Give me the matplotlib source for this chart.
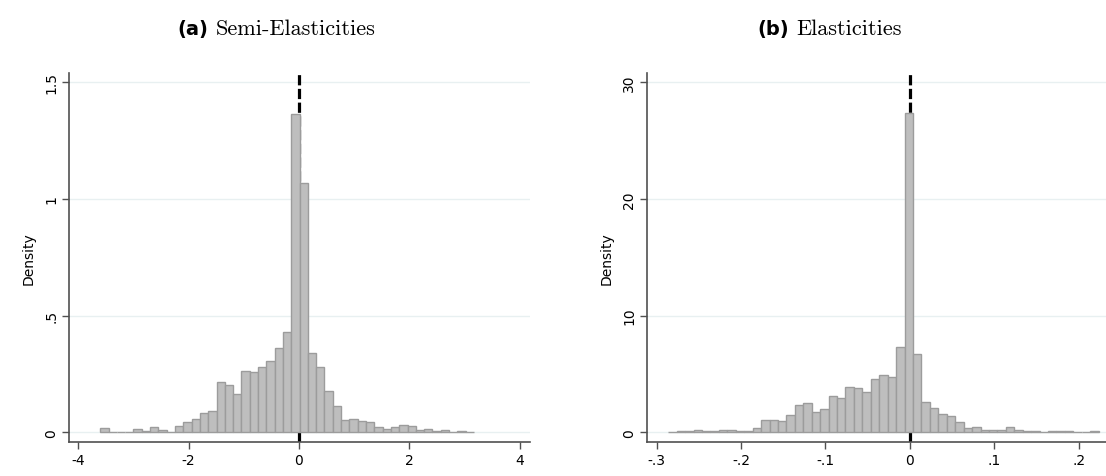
import numpy as np
import matplotlib
matplotlib.use("Agg")
import matplotlib.pyplot as plt

# ---------------- data ----------------
# (a) Semi-Elasticities: 45 equal-width bins
semi_bin_start = -3.60
semi_bin_end = 3.17
semi_density = [0.017, 0.003, 0.003, 0.003, 0.013, 0.007, 0.021, 0.008, 0.001,
                0.026, 0.043, 0.057, 0.081, 0.090, 0.216, 0.201, 0.166, 0.261,
                0.257, 0.281, 0.307, 0.363, 0.429, 1.364, 1.068, 0.339, 0.281,
                0.176, 0.114, 0.054, 0.056, 0.049, 0.046, 0.024, 0.013, 0.021,
                0.030, 0.026, 0.009, 0.014, 0.004, 0.009, 0.003, 0.004, 0.001]
semi_xticks = [-4, -2, 0, 2, 4]
semi_xticklabels = ["-4", "-2", "0", "2", "4"]
semi_yticks = [0, 0.5, 1, 1.5]
semi_yticklabels = ["0", ".5", "1", "1.5"]

# (b) Elasticities: 51 equal-width bins
el_bin_start = -0.2863
el_bin_end = 0.2237
el_density = [0.05, 0.09, 0.09, 0.23, 0.11, 0.11, 0.20, 0.20, 0.09, 0.09, 0.34,
              1.06, 1.03, 0.94, 1.51, 2.31, 2.49, 1.74, 2.00, 3.14, 2.94, 3.86,
              3.77, 3.46, 4.54, 4.89, 4.74, 7.29, 27.37, 6.69, 2.60, 2.11, 1.60,
              1.40, 0.86, 0.34, 0.43, 0.20, 0.20, 0.23, 0.46, 0.23, 0.11, 0.11,
              0.0, 0.09, 0.09, 0.09, 0.0, 0.0, 0.11]
el_xticks = [-0.3, -0.2, -0.1, 0, 0.1, 0.2]
el_xticklabels = ["-.3", "-.2", "-.1", "0", ".1", ".2"]
el_yticks = [0, 10, 20, 30]
el_yticklabels = ["0", "10", "20", "30"]

titles_tag = ["(a)", "(b)"]
titles_text = ["Semi-Elasticities", "Elasticities"]

# ---------------- style ----------------
W, H = 1106, 477
fig = plt.figure(figsize=(W / 100, H / 100), dpi=100)

BAR_FACE = "#bebebe"
BAR_EDGE = "#9c9c9c"
GRID = "#e8f0f1"
AX_COL = "#505050"


def px_axes(x0, x1, y_top, y_bot):
    return [x0 / W, 1 - y_bot / H, (x1 - x0) / W, (y_bot - y_top) / H]


def draw(ax, start, end, dens, xlim, ylim, xt, xtl, yt, ytl):
    n = len(dens)
    edges = np.linspace(start, end, n + 1)
    ax.set_xlim(*xlim)
    ax.set_ylim(*ylim)
    for y in yt:
        ax.axhline(y, color=GRID, lw=1.0, zorder=0)
    ax.axvline(0, color="black", lw=2.3, linestyle=(0, (3.2, 1.1)), zorder=1)
    ax.bar(edges[:-1], dens, width=np.diff(edges), align="edge",
           color=BAR_FACE, edgecolor=BAR_EDGE, linewidth=1.0, zorder=2)
    for s in ["top", "right"]:
        ax.spines[s].set_visible(False)
    for s in ["left", "bottom"]:
        ax.spines[s].set_color(AX_COL)
        ax.spines[s].set_linewidth(1.2)
    ax.set_xticks(xt)
    ax.set_xticklabels(xtl)
    ax.set_yticks(yt)
    ax.set_yticklabels(ytl, rotation=90, va="center")
    ax.tick_params(axis="both", direction="out", length=5, width=1.0,
                   color=AX_COL, labelsize=10, labelcolor="black", pad=3)
    ax.set_ylabel("Density", fontsize=10, labelpad=6)


axL = fig.add_axes(px_axes(69.3, 530, 74, 442.7))
draw(axL, semi_bin_start, semi_bin_end, semi_density,
     (-4.161, 4.185), (-0.040, 1.540),
     semi_xticks, semi_xticklabels, semi_yticks, semi_yticklabels)

axR = fig.add_axes(px_axes(647.3, 1106, 74, 442.7))
draw(axR, el_bin_start, el_bin_end, el_density,
     (-0.3111, 0.2324), (-0.806, 30.80),
     el_xticks, el_xticklabels, el_yticks, el_yticklabels)

# titles: centred on each half of the figure
title_y = 1 - 29 / H
renderer = fig.canvas.get_renderer()
gap = 8
for i, centre in enumerate([W * 0.25, W * 0.75]):
    t1 = fig.text(0, title_y, titles_tag[i], ha="left", va="center",
                  fontsize=14, fontweight="bold", family="DejaVu Sans")
    t2 = fig.text(0, title_y, titles_text[i], ha="left", va="center",
                  fontsize=16, family="cmr10")
    w1 = t1.get_window_extent(renderer).width
    w2 = t2.get_window_extent(renderer).width
    left = centre - (w1 + gap + w2) / 2
    t1.set_x(left / W)
    t2.set_x((left + w1 + gap) / W)

fig.savefig("out.png", dpi=100)
